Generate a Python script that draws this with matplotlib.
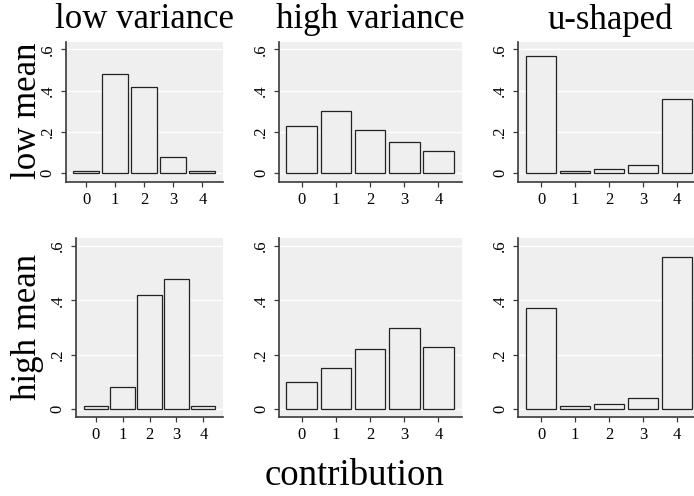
import matplotlib
matplotlib.use("Agg")
import matplotlib.pyplot as plt

plt.rcParams['font.family'] = ['Liberation Serif', 'DejaVu Serif']

# Share of subjects at each contribution level
contribution = [0, 1, 2, 3, 4]
col_titles = ["low variance", "high variance", "u-shaped"]
row_titles = ["low mean", "high mean"]
y_ticks = [0, 0.2, 0.4, 0.6]
y_tick_labels = ["0", ".2", ".4", ".6"]

low_mean_low_var = [0.01, 0.48, 0.42, 0.08, 0.01]
low_mean_high_var = [0.23, 0.30, 0.21, 0.15, 0.11]
low_mean_ushaped = [0.57, 0.01, 0.02, 0.04, 0.36]
high_mean_low_var = [0.01, 0.08, 0.42, 0.48, 0.01]
high_mean_high_var = [0.10, 0.15, 0.22, 0.30, 0.23]
high_mean_ushaped = [0.37, 0.01, 0.02, 0.04, 0.56]

panels = [
    [low_mean_low_var, low_mean_high_var, low_mean_ushaped],
    [high_mean_low_var, high_mean_high_var, high_mean_ushaped],
]

W, H = 694, 496
fig = plt.figure(figsize=(W / 100, H / 100), dpi=100)

# panel boxes in pixels: (left, right) per column, (top, bottom) per row
row_px = [(42.0, 181.7), (238.3, 416.7)]
col_px = [
    [(65.7, 223.3), (279.2, 461.7), (518.3, 702.0)],
    [(76.0, 223.3), (279.2, 461.7), (518.3, 702.0)],
]
xlims = [
    [(-0.70, 4.72), (-0.66, 4.68), (-0.667, 4.73)],
    [(-0.73, 4.74), (-0.66, 4.68), (-0.667, 4.73)],
]
ylims = [(-0.041, 0.636), (-0.028, 0.628)]

bg = "#efefef"
edge = "#222222"
axis_col = "#3a3a3a"

for r in range(2):
    top, bot = row_px[r]
    for c in range(3):
        left, right = col_px[r][c]
        ax = fig.add_axes([left / W, 1 - bot / H, (right - left) / W, (bot - top) / H])
        ax.set_facecolor(bg)
        for y in y_ticks:
            ax.axhline(y, color="white", lw=1.0, zorder=1)
        ax.bar(contribution, panels[r][c], width=0.9, color=bg,
               edgecolor=edge, linewidth=0.9, zorder=2)
        ax.set_xlim(*xlims[r][c])
        ax.set_ylim(*ylims[r])
        ax.set_xticks(contribution)
        ax.set_xticklabels([str(v) for v in contribution], fontsize=12)
        ax.set_yticks(y_ticks)
        ax.set_yticklabels(y_tick_labels, fontsize=12, rotation=90, va="center")
        for s in ["top", "right"]:
            ax.spines[s].set_visible(False)
        for s in ["left", "bottom"]:
            ax.spines[s].set_color(axis_col)
            ax.spines[s].set_linewidth(1.2)
        ax.tick_params(axis="both", direction="out", length=3.6, width=0.9,
                       color=axis_col, pad=3.5)
        ax.tick_params(axis="y", pad=3.8)

# column titles
for c in range(3):
    left, right = col_px[0][c]
    fig.text(((left + right) / 2) / W, 1 - 20 / H, col_titles[c],
             ha="center", va="center", fontsize=25)

# row titles
row_centers = [110.5, 327.5]
for r in range(2):
    fig.text(27 / W, 1 - row_centers[r] / H, row_titles[r], rotation=90,
             ha="center", va="center", fontsize=25)

fig.text(355 / W, 1 - 476 / H, "contribution", ha="center", va="center",
         fontsize=26.5)

fig.savefig("out.png", dpi=100)
